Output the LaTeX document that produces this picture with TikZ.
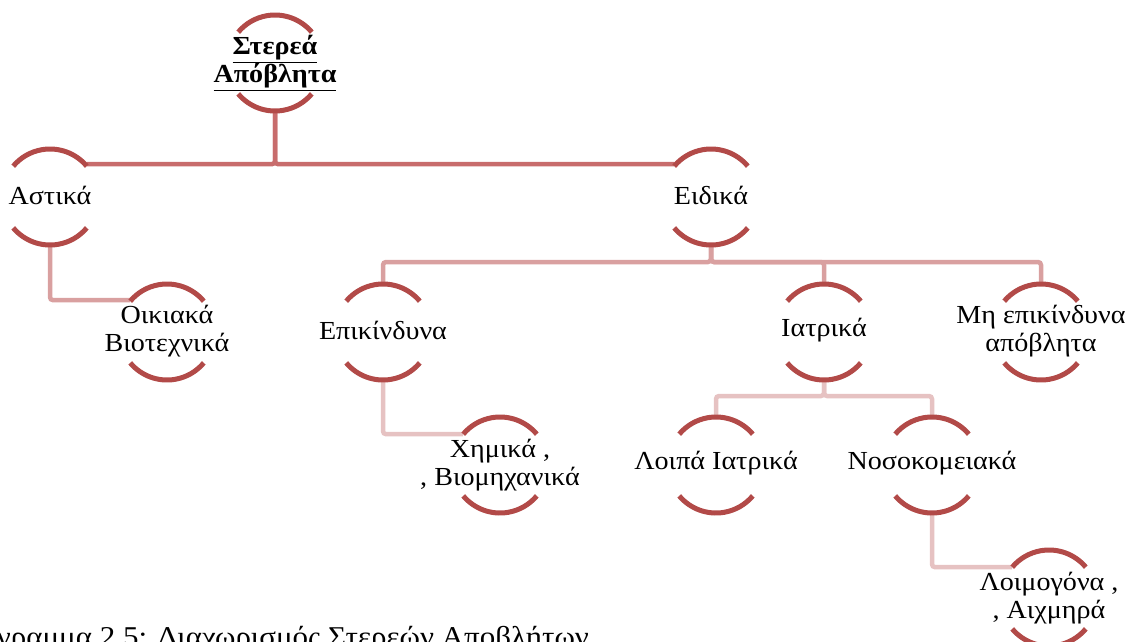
\documentclass[tikz,border=0pt]{standalone}
\usepackage{fontspec}
\setmainfont[FakeStretch=1.08]{Liberation Serif}
\definecolor{arccol}{RGB}{178,74,72}
\definecolor{conA}{RGB}{200,108,108}
\definecolor{conB}{RGB}{217,160,160}
\definecolor{conC}{RGB}{230,194,194}
\newcommand\thickul[1]{\tikz[baseline=(u.base)]{\node[inner sep=0pt] (u) {#1};\draw[line width=2pt] ([yshift=-5pt]u.base west) -- ([yshift=-5pt]u.base east);}}
\begin{document}
\begin{tikzpicture}[x=1pt,y=1pt,
  txt/.style={align=center,inner sep=0pt,font=\fontsize{26}{28}\selectfont},
  arcst/.style={draw=arccol,line width=5pt},
  conn/.style={line width=4.5pt,rounded corners=3pt},
  lvA/.style={conn,draw=conA},
  lvB/.style={conn,draw=conB},
  lvC/.style={conn,draw=conC}]
\useasboundingbox (0,-641) rectangle (1126,0);
\clip (0,-641) rectangle (1126,0);
% nodes
\node[txt,font=\fontsize{26}{28}\selectfont\bfseries] (root) at (275,-63) {\underline{Στερεά}\\\underline{Απόβλητα}};
\node[txt] (ast) at (50,-195) {Αστικά};
\node[txt] (eid) at (711,-195) {Ειδικά};
\node[txt] (oik) at (167,-331) {Οικιακά\\Βιοτεχνικά};
\node[txt] (epi) at (383,-330) {Επικίνδυνα};
\node[txt] (iat) at (824,-330) {Ιατρικά};
\node[txt] (mep) at (1041,-331) {Μη επικίνδυνα\\απόβλητα};
\node[txt] (xim) at (500,-465) {Χημικά ,\\, Βιομηχανικά};
\node[txt] (loi) at (716,-463) {Λοιπά Ιατρικά};
\node[txt] (nos) at (932,-463) {Νοσοκομειακά};
\node[txt] (lmg) at (1049,-598) {Λοιμογόνα ,\\, Αιχμηρά};
\node[anchor=base west,inner sep=0pt,font=\fontsize{28.7}{30}\selectfont] (cap) at (-3,-646.5) {γραμμα 2.5: Διαχωρισμός Στερεών Αποβλήτων};
% connectors
\draw[lvA] ([shift={(270:48)}]root.center) |- ([shift={(40:48)}]ast.center);
\draw[lvA] ([shift={(270:48)}]root.center) |- ([shift={(140:48)}]eid.center);
\draw[lvB] ([shift={(270:48)}]ast.center) |- ([shift={(140:48)}]oik.center);
\foreach \c in {epi,iat,mep}
  \draw[lvB] ([shift={(270:48)}]eid.center) -- ++(0,-19) -| ([shift={(90:48)}]\c.center);
\draw[lvC] ([shift={(270:48)}]epi.center) |- ([shift={(140:48)}]xim.center);
\foreach \c in {loi,nos}
  \draw[lvC] ([shift={(270:48)}]iat.center) -- ++(0,-18) -| ([shift={(90:48)}]\c.center);
\draw[lvC] ([shift={(270:48)}]nos.center) |- ([shift={(140:48)}]lmg.center);
% arcs
\foreach \n/\y in {root/63,ast/197,eid/197,oik/332,epi/332,iat/332,mep/332,xim/465,loi/465,nos/465,lmg/598}{
  \coordinate (c\n) at (\n.center |- 0,-\y);
  \draw[arcst] ([shift={(40:48)}]c\n) arc (40:140:48);
  \draw[arcst] ([shift={(220:48)}]c\n) arc (220:320:48);
}
\end{tikzpicture}
\end{document}
